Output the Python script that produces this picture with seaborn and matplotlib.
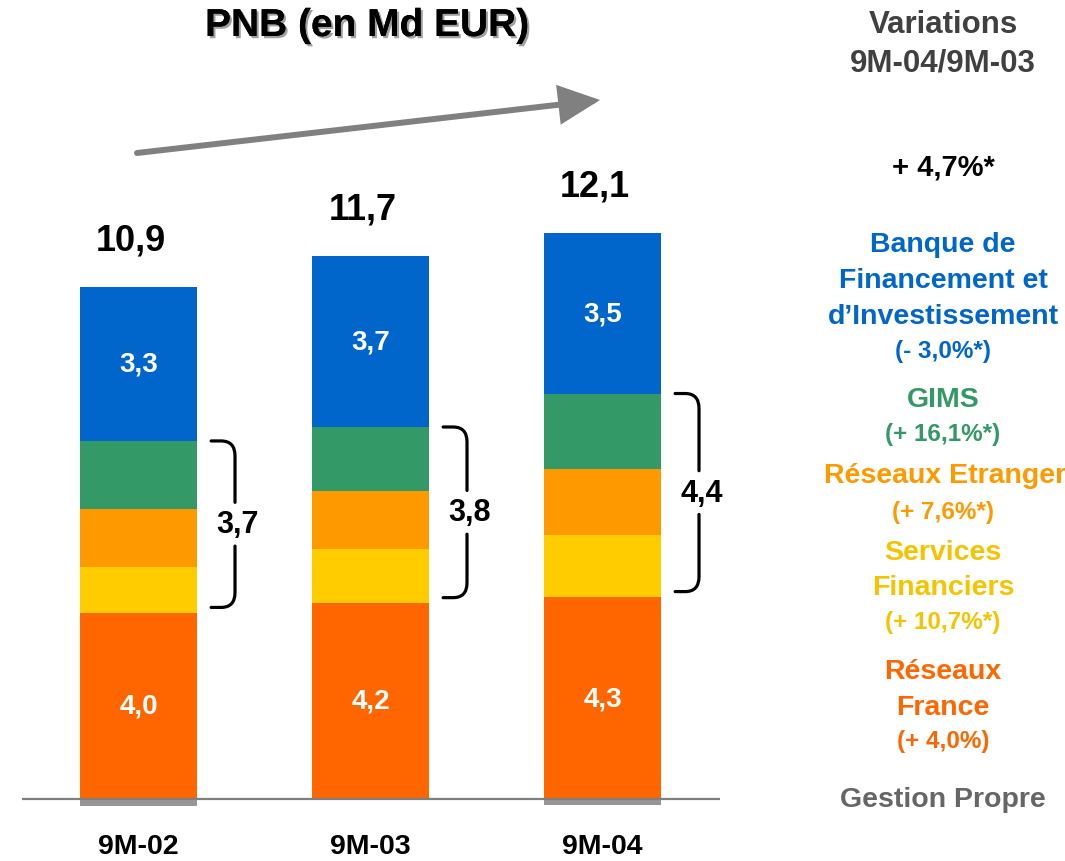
import numpy as np
import matplotlib
matplotlib.use("Agg")
import matplotlib.pyplot as plt
import matplotlib.patheffects as pe
from matplotlib.path import Path
from matplotlib.patches import PathPatch
import seaborn as sns

# ---------------- data ----------------
periods = ["9M-02", "9M-03", "9M-04"]
gestion_propre = [-0.16, 0.03, -0.13]
reseaux_france = [4.00, 4.18, 4.34]
services_financiers = [0.99, 1.16, 1.33]
reseaux_etrangers = [1.25, 1.25, 1.42]
gims = [1.46, 1.38, 1.63]
bfi = [3.31, 3.68, 3.46]
totals = [10.9, 11.7, 12.1]

title = "PNB (en Md EUR)"
header_lines = ["Variations", "9M-04/9M-03"]
total_variation = "+ 4,7%*"
seg_names = [["Banque de", "Financement et", "d\u2019Investissement"],
             ["GIMS"],
             ["Réseaux Etrangers"],
             ["Services", "Financiers"],
             ["Réseaux", "France"],
             ["Gestion Propre"]]
seg_variations = ["(- 3,0%*)", "(+ 16,1%*)", "(+ 7,6%*)", "(+ 10,7%*)", "(+ 4,0%)", ""]

# ---------------- style ----------------
sns.set_style("white")
plt.rcParams["font.family"] = ["Liberation Sans", "DejaVu Sans"]

c_rf, c_sf, c_re, c_gims, c_bfi, c_gp = "#FF6600", "#FFCC00", "#FF9900", "#339966", "#0066CC", "#969696"

W, H = 1065, 862
fig = plt.figure(figsize=(W / 100, H / 100), dpi=100)

def fx(px):
    return px / W

def fy(py):
    return 1 - py / H

scale = 46.5          # px per unit
base_px = 800         # y pixel of zero line
ax_l, ax_r, ax_t, ax_b = 22, 720, 60, 830
c0, spacing = 138.5, 232.0
ax = fig.add_axes([fx(ax_l), fy(ax_b), (ax_r - ax_l) / W, (ax_b - ax_t) / H])

def fmt(v):
    return f"{v:.1f}".replace(".", ",")

gp = np.array(gestion_propre)
bar_kw = dict(width=117 / spacing, saturation=1, errorbar=None,
              edgecolor="none", linewidth=0, ax=ax)

sns.barplot(x=periods, y=gp, bottom=np.zeros(3), color=c_gp, **bar_kw)
base = np.maximum(gp, 0)
segments = [(reseaux_france, c_rf, True), (services_financiers, c_sf, False),
            (reseaux_etrangers, c_re, False), (gims, c_gims, False), (bfi, c_bfi, True)]
bottoms = []
for vals, col, lab in segments:
    vals = np.array(vals)
    sns.barplot(x=periods, y=vals, bottom=base.copy(), color=col, **bar_kw)
    bottoms.append(base.copy())
    if lab:
        for i, v in enumerate(vals):
            ax.text(i, base[i] + v / 2, fmt(v), ha="center", va="center",
                    color="white", fontsize=20, fontweight="bold")
    base = base + vals
tops = base

for i, t in enumerate(totals):
    ax.annotate(fmt(t), xy=(i, tops[i]), xytext=(-8 * 0.72, 47 * 0.72), textcoords="offset points",
                ha="center", va="center", fontsize=26, fontweight="bold", color="black")

# braces around the middle segments
mid_sum = np.array(services_financiers) + np.array(reseaux_etrangers) + np.array(gims)
for i in range(3):
    y_top = bottoms[3][i] + gims[i]
    y_bot = bottoms[1][i] + 0.12
    y_mid = (y_top + y_bot) / 2
    x0, x1 = i + 0.313, i + 0.416
    rx, ry, gap = 0.06, 0.32, 0.47
    verts = [(x0, y_top), (x1 - rx, y_top), (x1, y_top), (x1, y_top - ry), (x1, y_mid + gap),
             (x1, y_mid - gap), (x1, y_bot + ry), (x1, y_bot), (x1 - rx, y_bot), (x0, y_bot)]
    codes = [Path.MOVETO, Path.LINETO, Path.CURVE3, Path.CURVE3, Path.LINETO,
             Path.MOVETO, Path.LINETO, Path.CURVE3, Path.CURVE3, Path.LINETO]
    ax.add_patch(PathPatch(Path(verts, codes), fill=False, lw=2.3, edgecolor="black",
                           capstyle="round", joinstyle="round", zorder=5))
    ax.text(x1 + 0.01, y_mid, fmt(mid_sum[i]), ha="center", va="center",
            fontsize=22, fontweight="bold", color="black")

ax.axhline(0, color="#7f7f7f", lw=1.6, zorder=6)
ax.set_xlim((ax_l - c0) / spacing, (ax_r - c0) / spacing)
ax.set_ylim(-(ax_b - base_px) / scale, (base_px - ax_t) / scale)
ax.set_xticks([0, 1, 2])
ax.set_xticklabels(periods, fontsize=20.5, fontweight="bold", color="black")
ax.tick_params(axis="x", length=0, pad=3)
ax.set_yticks([])
ax.set_xlabel("")
ax.set_ylabel("")
for s in ax.spines.values():
    s.set_visible(False)
ax.set_facecolor("none")

# title with shadow
fig.text(fx(367), fy(27), title, ha="center", va="center", fontsize=28, fontweight="bold",
         color="black",
         path_effects=[pe.withSimplePatchShadow(offset=(1.6, -1.6), shadow_rgbFace="#a0a0a0", alpha=1),
                       pe.Normal()])

# trend arrow
ax.annotate("", xy=(600, H - 101), xycoords="figure pixels",
            xytext=(137, H - 154), textcoords="figure pixels",
            arrowprops=dict(arrowstyle="-|>,head_length=1.15,head_width=0.55", mutation_scale=20,
                            lw=4.3, color="#808080", shrinkA=0, shrinkB=0, joinstyle="miter"),
            annotation_clip=False)

# right column
xc = 943
for txt, y in zip(header_lines, [25, 63]):
    fig.text(fx(xc), fy(y), txt, ha="center", va="center", fontsize=22.5,
             fontweight="bold", color="#404040")
fig.text(fx(xc), fy(168), total_variation, ha="center", va="center", fontsize=21,
         fontweight="bold", color="black")

seg_colors = [c_bfi, c_gims, c_re, "#F5C400", c_rf, "#666666"]
seg_name_y = [[245, 281, 317], [400], [476], [553, 588], [672, 708], [800]]
seg_var_y = [352, 435, 513, 623, 742, None]
for names, ys, col, var, vy in zip(seg_names, seg_name_y, seg_colors, seg_variations, seg_var_y):
    for nm, y in zip(names, ys):
        if nm == "Réseaux Etrangers":
            fig.text(fx(824), fy(y), nm, ha="left", va="center", fontsize=20.5,
                     fontweight="bold", color=col)
        else:
            fig.text(fx(xc), fy(y), nm, ha="center", va="center", fontsize=20.5,
                     fontweight="bold", color=col)
    if var:
        fig.text(fx(xc), fy(vy), var, ha="center", va="center", fontsize=17.5,
                 fontweight="bold", color=col)

fig.savefig("out.png", dpi=100)
